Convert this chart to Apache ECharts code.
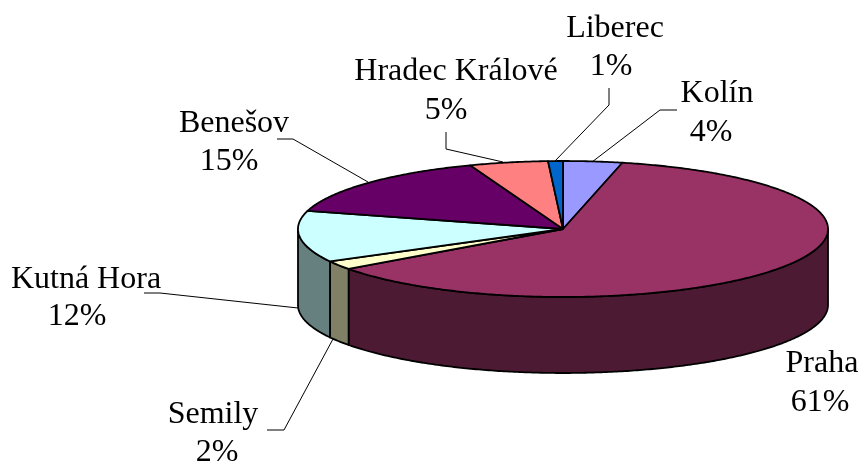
<!DOCTYPE html>
<html>
<head>
<meta charset="utf-8">
<style>html,body{margin:0;padding:0;background:#fff}#c{width:863px;height:463px}</style>
<script src="https://cdn.jsdelivr.net/npm/echarts@6/dist/echarts.min.js"></script>
</head>
<body>
<div id="c"></div>
<script>
// Data, clockwise from 12 o'clock
const categories = ['Kolín', 'Praha', 'Semily', 'Kutná Hora', 'Benešov', 'Hradec Králové', 'Liberec'];
const shares = [3.6, 61.4, 2.1, 12.2, 15.0, 4.8, 0.9];
const topColors = ['#9999FF', '#993366', '#FFFFCC', '#CCFFFF', '#660066', '#FF8080', '#0066CC'];
const sideColors = ['#4D4D80', '#4D1A33', '#808066', '#668080', '#330033', '#804040', '#003366'];

// Projection of the tilted disc
const disc = { cx: 563, cy: 229, rx: 265, ry: 68, depth: 76 };

// Label placement: centre of the name, centre of the percentage, leader polyline
const labelLayout = [
  { name: [717, 94],  pct: [711, 133], leader: [[677, 110], [660, 110], [592, 162]] },
  { name: [822, 364], pct: [820, 403], leader: null },
  { name: [213, 415], pct: [217, 453], leader: [[267, 430], [284, 430], [333, 339]] },
  { name: [86, 280],  pct: [77, 317],  leader: [[144, 293], [160, 293], [298, 308]] },
  { name: [234, 124], pct: [229, 162], leader: [[277, 139], [293, 139], [368, 182]] },
  { name: [456, 72],  pct: [446, 111], leader: [[446, 132], [446, 149], [503, 162]] },
  { name: [615, 29],  pct: [611, 67],  leader: [[609, 88], [609, 105], [554, 162]] }
];

const total = shares.reduce((a, b) => a + b, 0);
const starts = [];
shares.reduce((acc, v, i) => { starts[i] = acc; return acc + v; }, 0);
const toAngle = v => v / total * 2 * Math.PI;
const rimPoint = (t, dy) => [
  disc.cx + disc.rx * Math.sin(t),
  disc.cy - disc.ry * Math.cos(t) + (dy || 0)
];
function arc(t0, t1, dy) {
  const n = Math.max(2, Math.ceil((t1 - t0) / 0.01));
  const pts = [];
  for (let i = 0; i <= n; i++) pts.push(rimPoint(t0 + (t1 - t0) * i / n, dy));
  return pts;
}
const edge = { stroke: '#000', lineWidth: 1.8, lineJoin: 'round' };
const rows = categories.map((c, i) => [i, shares[i]]);

function renderWall(params, api) {
  const i = api.value(0);
  const t0 = Math.max(toAngle(starts[i]), Math.PI / 2);
  const t1 = Math.min(toAngle(starts[i] + api.value(1)), Math.PI * 1.5);
  if (t1 <= t0) return { type: 'group', children: [] };
  const pts = arc(t0, t1, 0).concat(arc(t0, t1, disc.depth).reverse());
  return { type: 'polygon', shape: { points: pts }, style: Object.assign({ fill: sideColors[i] }, edge) };
}
function renderTop(params, api) {
  const i = api.value(0);
  const t0 = toAngle(starts[i]);
  const t1 = toAngle(starts[i] + api.value(1));
  const pts = [[disc.cx, disc.cy]].concat(arc(t0, t1, 0));
  return { type: 'polygon', shape: { points: pts }, style: Object.assign({ fill: topColors[i] }, edge) };
}
function renderLabel(params, api) {
  const i = api.value(0);
  const l = labelLayout[i];
  const font = '32px "Liberation Serif", "Times New Roman", serif';
  const txt = (text, p) => ({
    type: 'text',
    style: { text, x: p[0], y: p[1], fill: '#000', font, align: 'center', verticalAlign: 'middle' }
  });
  const children = [txt(categories[i], l.name), txt(Math.round(api.value(1) / total * 100) + '%', l.pct)];
  if (l.leader) children.push({
    type: 'polyline',
    shape: { points: l.leader },
    style: { stroke: '#000', lineWidth: 1, fill: null }
  });
  return { type: 'group', children };
}

const base = { type: 'custom', coordinateSystem: 'none', data: rows, animation: false, silent: true,
  encode: { value: [1] } };
const chart = echarts.init(document.getElementById('c'), null, { renderer: 'canvas' });
chart.setOption({
  backgroundColor: '#fff',
  animation: false,
  series: [
    Object.assign({}, base, { name: 'sides', z: 1, renderItem: renderWall }),
    Object.assign({}, base, { name: 'tops', z: 2, renderItem: renderTop }),
    Object.assign({}, base, { name: 'labels', z: 3, renderItem: renderLabel })
  ]
});
</script>
</body>
</html>
